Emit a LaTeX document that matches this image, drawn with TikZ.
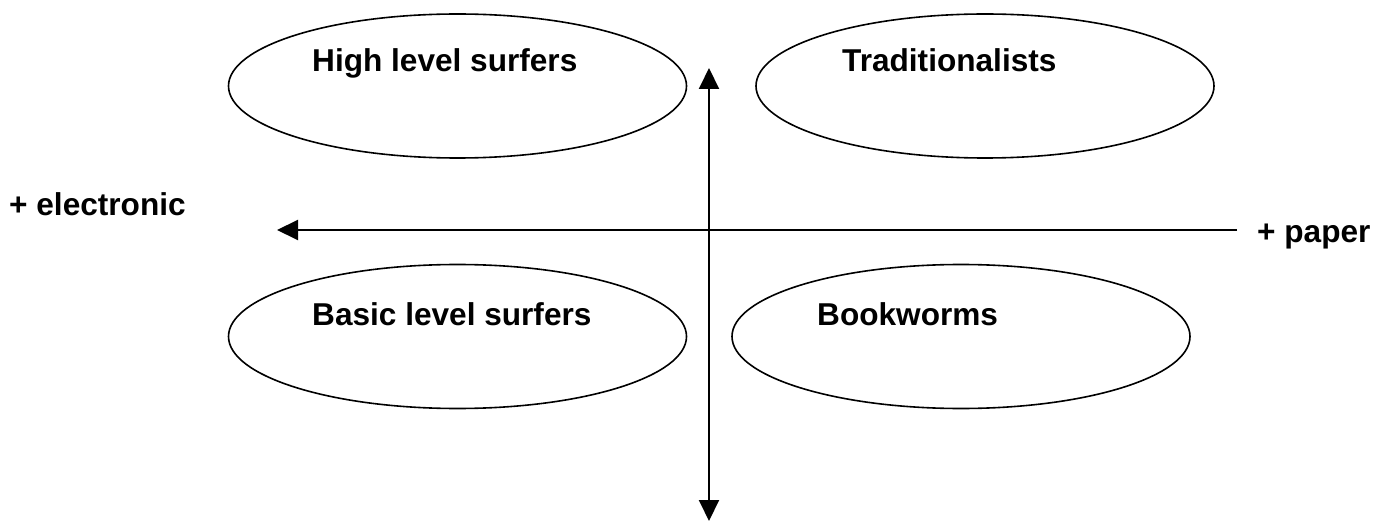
\documentclass[tikz,border=0pt]{standalone}
\usepackage{fontspec}
\setmainfont{Liberation Sans}
\usetikzlibrary{shapes.geometric,arrows.meta}
\tikzset{
  blob/.style={draw=black, line width=1.6pt, ellipse, minimum width=458pt, minimum height=144pt, inner sep=0pt},
  lbl/.style={anchor=base west, inner sep=0pt, font=\fontsize{31.6}{36}\selectfont\bfseries},
  axis/.style={draw=black, line width=2pt}
}
\begin{document}
\begin{tikzpicture}[x=1pt,y=-1pt]
\useasboundingbox (0,0) rectangle (1386,521);
\node[blob] (hls) at (457.5,86) {};
\node[blob] (trad) at (985,86) {};
\node[blob] (bls) at (457.5,336.5) {};
\node[blob] (book) at (961,336.5) {};
\node[lbl] (thls) at (312,72) {High level surfers};
\node[lbl] (ttrad) at (842,72) {Traditionalists};
\node[lbl] (tbls) at (312,325) {Basic level surfers};
\node[lbl] (tbook) at (817,325) {Bookworms};
\node[lbl] (elec) at (9,216) {+ electronic};
\node[lbl] (paper) at (1257,243) {+ paper};
\coordinate (vtop) at (709,68);
\coordinate (vbot) at (709,521);
\coordinate (hleft) at (277,230);
\coordinate (hright) at (1237,230);
\draw[axis, {Triangle[width=20pt,length=21pt]}-{Triangle[width=20pt,length=21pt]}] (vtop) -- (vbot);
\draw[axis, -{Triangle[width=20pt,length=21pt]}] (hright) -- (hleft);
\end{tikzpicture}
\end{document}
